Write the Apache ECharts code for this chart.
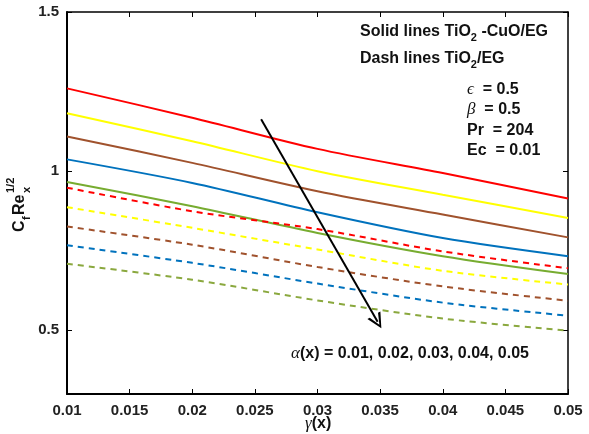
<!DOCTYPE html>
<html>
<head>
<meta charset="utf-8">
<script src="https://cdn.jsdelivr.net/npm/echarts@6/dist/echarts.min.js"></script>
<style>
html,body{margin:0;padding:0;background:#fff;}
#c{width:589px;height:434px;}
</style>
</head>
<body>
<div id="c"></div>
<script>
// ---- data ----
const gammaX = [0.01, 0.02, 0.03, 0.04, 0.05];
const solidRed    = [1.260, 1.168, 1.070, 0.994, 0.914];
const solidYellow = [1.182, 1.094, 1.000, 0.926, 0.853];
const solidBrown  = [1.109, 1.026, 0.937, 0.864, 0.792];
const solidBlue   = [1.037, 0.963, 0.871, 0.790, 0.733];
const solidGreen  = [0.966, 0.890, 0.806, 0.733, 0.677];
const dashRed     = [0.948, 0.874, 0.818, 0.748, 0.695];
const dashYellow  = [0.887, 0.822, 0.754, 0.687, 0.644];
const dashBrown   = [0.826, 0.769, 0.699, 0.638, 0.593];
const dashBlue    = [0.767, 0.712, 0.647, 0.587, 0.546];
const dashGreen   = [0.709, 0.659, 0.594, 0.537, 0.499];
const yTickValues = [0.5, 1, 1.5];
const arrowStart = [0.0255, 1.163];
const arrowEnd   = [0.0348, 0.527];

const colors = {
  red: '#ff0000', yellow: '#ffff00', brown: '#a0522d', blue: '#0072bd', green: '#77ac30', olive: '#8aa83e'
};

function pairs(ys) { return gammaX.map((x, i) => [x, ys[i]]); }
function mk(name, ys, color, dashed) {
  return {
    name: name, type: 'line', data: pairs(ys), smooth: 0.3, symbol: 'none',
    lineStyle: { color: color, width: 2, type: dashed ? [6, 5] : 'solid' },
    silent: true, z: 3
  };
}

const chart = echarts.init(document.getElementById('c'), null, { renderer: 'canvas' });
const font = 'Liberation Sans, Arial, sans-serif';
const serif = 'Liberation Serif, Times New Roman, serif';
const lblStyle = { color: '#222', fontSize: 15, fontWeight: 'bold', fontFamily: font };
const arrowPath = 'path://M50 0 L86 100 L73 100 L50 26 L27 100 L14 100 Z';

const series = [
  mk('sr', solidRed, colors.red, false),
  mk('sy', solidYellow, colors.yellow, false),
  mk('sb', solidBrown, colors.brown, false),
  mk('sbl', solidBlue, colors.blue, false),
  mk('sg', solidGreen, colors.green, false),
  mk('dr', dashRed, colors.red, true),
  mk('dy', dashYellow, colors.yellow, true),
  mk('db', dashBrown, colors.brown, true),
  mk('dbl', dashBlue, colors.blue, true),
  mk('dg', dashGreen, colors.olive, true),
  {
    type: 'line', data: [], silent: true,
    markLine: {
      silent: true, symbol: ['none', arrowPath], symbolSize: 15,
      label: { show: false },
      lineStyle: { color: '#000', width: 2, type: 'solid' },
      data: [[{ coord: arrowStart }, { coord: arrowEnd }]]
    }
  }
];

const bigText = (t) => ({ text: t, fontSize: 16, fontWeight: 'bold', fontFamily: font, fill: '#111' });
const richSub = {
  b: { fontSize: 16, fontWeight: 'bold', fontFamily: font, fill: '#111', lineHeight: 22 },
  s: { fontSize: 11, fontWeight: 'bold', fontFamily: font, fill: '#111', lineHeight: 11, verticalAlign: 'bottom' }
};
const richGreek = {
  g: { fontSize: 17, fontStyle: 'italic', fontFamily: serif, fill: '#111' },
  b: { fontSize: 16, fontWeight: 'bold', fontFamily: font, fill: '#111' }
};

const option = {
  animation: false,
  backgroundColor: '#fff',
  grid: { left: 67, right: 21, top: 12, bottom: 40, containLabel: false },
  xAxis: [
    {
      type: 'value', min: 0.01, max: 0.05, interval: 0.005,
      axisLine: { show: true, onZero: false, lineStyle: { color: '#000', width: 2 } },
      axisTick: { show: true, inside: true, length: 5, lineStyle: { color: '#000', width: 1 } },
      axisLabel: Object.assign({ margin: 9, formatter: v => String(+v.toFixed(3)) }, lblStyle),
      splitLine: { show: false }
    },
    {
      type: 'value', position: 'top', min: 0.01, max: 0.05, interval: 0.005,
      axisLine: { show: true, onZero: false, lineStyle: { color: '#000', width: 1.5 } },
      axisTick: { show: true, inside: true, length: 5, lineStyle: { color: '#000', width: 1 } },
      axisLabel: { show: false }, splitLine: { show: false }
    }
  ],
  yAxis: [
    {
      type: 'value', min: 0.3, max: 1.5,
      axisLine: { show: true, onZero: false, lineStyle: { color: '#000', width: 2 } },
      axisTick: { show: true, inside: true, length: 5, customValues: yTickValues, lineStyle: { color: '#000', width: 1 } },
      axisLabel: Object.assign({ margin: 8, customValues: yTickValues }, lblStyle),
      splitLine: { show: false }
    },
    {
      type: 'value', position: 'right', min: 0.3, max: 1.5,
      axisLine: { show: true, onZero: false, lineStyle: { color: '#000', width: 1.5 } },
      axisTick: { show: true, inside: true, length: 5, customValues: yTickValues, lineStyle: { color: '#000', width: 1 } },
      axisLabel: { show: false }, splitLine: { show: false }
    }
  ],
  series: series,
  graphic: [
    { type: 'text', left: 360, top: 24, style: { text: '{b|Solid lines TiO}{s|2}{b| -CuO/EG}', rich: richSub } },
    { type: 'text', left: 360, top: 51, style: { text: '{b|Dash lines TiO}{s|2}{b|/EG}', rich: richSub } },
    { type: 'text', left: 467, top: 81, style: { text: '{g|ϵ}{b|  = 0.5}', rich: richGreek } },
    { type: 'text', left: 467, top: 101, style: { text: '{g|β}{b|  = 0.5}', rich: richGreek } },
    { type: 'text', left: 467, top: 123, style: bigText('Pr  = 204') },
    { type: 'text', left: 467, top: 143, style: bigText('Ec  = 0.01') },
    { type: 'text', left: 291, top: 345, style: { text: '{g|α}{b|(x) = 0.01, 0.02, 0.03, 0.04, 0.05}', rich: richGreek } },
    { type: 'text', left: 305, top: 415, style: { text: '{g|γ}{b|(x)}', rich: richGreek } },
    {
      type: 'group', x: 20, y: 202, rotation: Math.PI / 2,
      children: [
        { type: 'text', x: -30, y: 0, style: { text: 'C', fontSize: 16, fontWeight: 'bold', fontFamily: font, fill: '#111', textVerticalAlign: 'middle' } },
        { type: 'text', x: -18, y: 7, style: { text: 'f', fontSize: 11, fontWeight: 'bold', fontFamily: font, fill: '#111', textVerticalAlign: 'middle' } },
        { type: 'text', x: -13, y: 0, style: { text: 'Re', fontSize: 16, fontWeight: 'bold', fontFamily: font, fill: '#111', textVerticalAlign: 'middle' } },
        { type: 'text', x: 9, y: 7, style: { text: 'x', fontSize: 11, fontWeight: 'bold', fontFamily: font, fill: '#111', textVerticalAlign: 'middle' } },
        { type: 'text', x: 9, y: -9, style: { text: '1/2', fontSize: 11, fontWeight: 'bold', fontFamily: font, fill: '#111', textVerticalAlign: 'middle' } }
      ]
    }
  ]
};
chart.setOption(option);
</script>
</body>
</html>
